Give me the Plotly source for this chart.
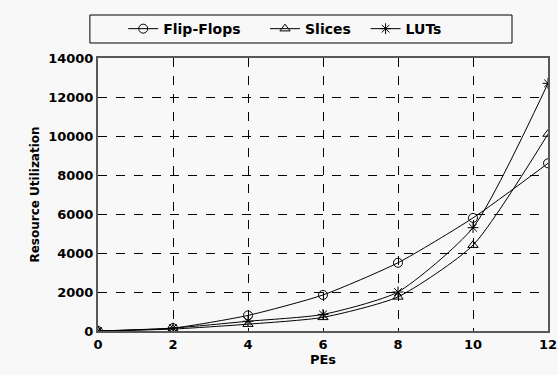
import plotly.graph_objects as go

pes = [0, 2, 4, 6, 8, 10, 12]
flip_flops = [0, 150, 800, 1850, 3500, 5800, 8600]
slices = [0, 100, 350, 700, 1750, 4400, 10100]
luts = [0, 150, 500, 850, 2000, 5300, 12700]
y_ticks = [0, 2000, 4000, 6000, 8000, 10000, 12000, 14000]
y_labels = ["0", "2000", "4000", "6000", "8000", "10000", "12000", "14000"]
x_ticks = [0, 2, 4, 6, 8, 10, 12]

series = [
    ("Flip-Flops", flip_flops, "circle-open", 4),
    ("Slices", slices, "triangle-up-open", 2),
    ("LUTs", luts, "asterisk-open", 0),
]

fig = go.Figure()
for name, vals, sym, pad in series:
    fig.add_trace(go.Scatter(
        x=pes, y=vals, name=name + "\u00a0" * pad, mode="lines+markers",
        line=dict(color="black", width=1, shape="spline", smoothing=0.6),
        marker=dict(symbol=sym, size=9, color="black", line=dict(width=1, color="black")),
    ))

font = "DejaVu Sans, sans-serif"
fig.add_shape(type="rect", xref="paper", yref="paper",
              x0=-0.018, x1=0.92, y0=1.055, y1=1.1575,
              line=dict(color="black", width=1), fillcolor="rgba(0,0,0,0)")
fig.update_layout(
    width=558, height=375,
    margin=dict(l=98, r=10, t=58, b=44, autoexpand=False),
    paper_bgcolor="#f8f8f8", plot_bgcolor="#f8f8f8",
    font=dict(family=font, size=12, color="black"),
    showlegend=True,
    legend=dict(orientation="h", x=0.416, xanchor="center", y=1.106, yanchor="middle",
                borderwidth=0, bgcolor="rgba(0,0,0,0)",
                font=dict(family=font, size=14, color="black", weight="bold"),
                itemwidth=30),
    xaxis=dict(range=[0, 12], tickvals=x_ticks, showgrid=True, gridcolor="black",
               griddash="dash", gridwidth=1, showline=True, linecolor="#585858", linewidth=2,
               mirror=True, zeroline=False, ticks="",
               tickfont=dict(family=font, size=13, weight="bold"),
               title=dict(text="<b>PEs</b>", font=dict(family=font, size=13), standoff=2)),
    yaxis=dict(range=[0, 14000], tickvals=y_ticks, ticktext=y_labels, showgrid=True, gridcolor="black",
               griddash="dash", gridwidth=1, showline=True, linecolor="#585858", linewidth=2,
               mirror=True, zeroline=False, ticks="",
               tickfont=dict(family=font, size=13, weight="bold"),
               title=dict(text="<b>Resource Utilization</b>", font=dict(family=font, size=12), standoff=6)),
)

fig.write_html("out.html", config={"displayModeBar": False},
               post_script="document.body.style.margin='0';")
